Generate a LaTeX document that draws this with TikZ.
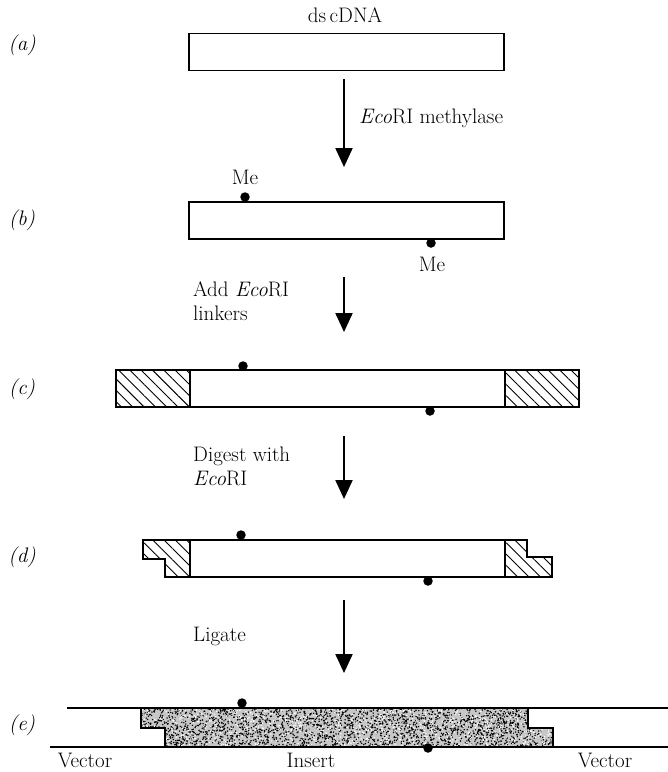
\documentclass[tikz,border=0pt]{standalone}
\usetikzlibrary{arrows.meta,positioning,patterns.meta}

\begin{document}
\begin{tikzpicture}[
  x=1pt, y=-1pt,
  dna/.style={rectangle, draw, line width=1.6pt, minimum width=315pt,
              minimum height=37pt, inner sep=0pt, outer sep=0pt},
  linker/.style={rectangle, draw, line width=1.6pt, minimum width=74pt,
              minimum height=37pt, inner sep=0pt, outer sep=0pt,
              pattern={Lines[angle=-45,distance=8pt,line width=0.9pt]}},
  endcut/.style={draw, line width=1.6pt, line join=miter,
              pattern={Lines[angle=-45,distance=8pt,line width=0.9pt]}},
  vecline/.style={line width=1.6pt},
  arr/.style={-{Triangle[width=17pt,length=19pt]}, line width=2.2pt},
  lbl/.style={font=\fontsize{21}{24}\selectfont, inner sep=1pt},
  steplbl/.style={lbl, anchor=west, align=left},
  rowlbl/.style={font=\fontsize{21}{24}\selectfont\itshape, inner sep=1pt},
  methyl/.style={circle, fill, inner sep=0pt, minimum size=9.5pt}
]
\useasboundingbox (0,0) rectangle (668,772);

%% row labels
\node[rowlbl] (ra) at (22,45)  {(a)};
\node[rowlbl] (rb) at (22,220) {(b)};
\node[rowlbl] (rc) at (22,389) {(c)};
\node[rowlbl] (rd) at (22,557) {(d)};
\node[rowlbl] (re) at (22,725) {(e)};

%% (a) ds cDNA
\node[dna] (boxa) at (346.5,52) {};
\node[lbl] (dsc) at (345,15) {ds\,cDNA};

%% (b) methylated
\node[dna] (boxb) at (346.5,220.5) {};
\node[methyl] (mb1) at (245,197) {};
\node[methyl] (mb2) at (431,243) {};
\node[lbl] (meb1) at (245,177) {Me};
\node[lbl] (meb2) at (432,264) {Me};

%% (c) with linkers
\node[dna] (boxc) at (347.5,388.5) {};
\node[linker, left=0pt of boxc] (lkl) {};
\node[linker, right=0pt of boxc] (lkr) {};
\node[methyl] (mc1) at (243,366) {};
\node[methyl] (mc2) at (430,411) {};

%% (d) digested
\node[dna] (boxd) at (347.5,558.5) {};
\draw[endcut] (boxd.north west) -- (143,540) -- (143,559) -- (165,559)
  -- (165,577) -- (boxd.south west) -- cycle;
\draw[endcut] (boxd.north east) -- (527,540) -- (527,557) -- (552,557)
  -- (552,577) -- (boxd.south east) -- cycle;
\node[methyl] (md1) at (241,535) {};
\node[methyl] (md2) at (428,581) {};

%% (e) ligated into vector
\begin{scope}
  \clip (141,708) -- (528,708) -- (528,728) -- (553,728) -- (553,747)
    -- (165,747) -- (165,728) -- (141,728) -- cycle;
  \fill[black!22] (130,700) rectangle (560,750);
  \pgfmathsetseed{11}
  \foreach \i in {1,...,2600}
    \fill ({141+rnd*412},{708+rnd*39}) circle (0.8);
  \foreach \i in {1,...,900}
    \fill[white] ({141+rnd*412},{708+rnd*39}) circle (0.8);
\end{scope}
\draw[vecline] (141,708) -- (141,728) -- (165,728) -- (165,747);
\draw[vecline] (528,708) -- (528,728) -- (553,728) -- (553,747);
\coordinate (vt1) at (67,708);
\coordinate (vt2) at (668,708);
\coordinate (vb1) at (50,747);
\coordinate (vb2) at (668,747);
\draw[vecline] (vt1) -- (vt2);
\draw[vecline] (vb1) -- (vb2);
\node[methyl] (me1) at (242,703) {};
\node[methyl] (me2) at (428,748) {};
\node[lbl] (vecl) at (85,760) {Vector};
\node[lbl] (ins) at (311,760) {Insert};
\node[lbl] (vecr) at (605,760) {Vector};

%% arrows
\coordinate (s1) at (344,79);  \coordinate (e1) at (344,167);
\coordinate (s2) at (344,277); \coordinate (e2) at (344,332);
\coordinate (s3) at (344,436); \coordinate (e3) at (344,499);
\coordinate (s4) at (344,600); \coordinate (e4) at (344,673);
\draw[arr] (s1) -- (e1);
\draw[arr] (s2) -- (e2);
\draw[arr] (s3) -- (e3);
\draw[arr] (s4) -- (e4);

%% step labels
\node[steplbl] (st1) at (358,118) {\textit{Eco}RI methylase};
\node[steplbl] (st2) at (192,301) {Add \textit{Eco}RI\\ linkers};
\node[steplbl] (st3) at (192,466) {Digest with\\ \textit{Eco}RI};
\node[steplbl] (st4) at (192,636) {Ligate};

\end{tikzpicture}
\end{document}
